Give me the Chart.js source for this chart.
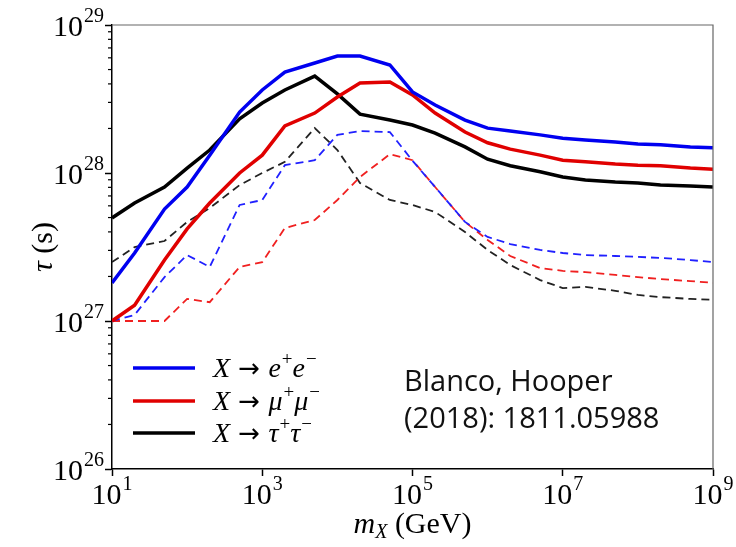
<!DOCTYPE html>
<html>
<head>
<meta charset="utf-8">
<script src="https://cdn.jsdelivr.net/npm/chart.js@4"></script>
<style>
  html, body { margin: 0; padding: 0; background: #fff; }
  #wrap { width: 736px; height: 547px; }
</style>
</head>
<body>
<div id="wrap"><canvas id="chart" width="736" height="547"></canvas></div>
<script>
// dark matter mass (GeV)
const masses = [10, 20, 50, 100, 200, 500, 1e3, 2e3, 5e3, 1e4, 2e4, 5e4, 1e5, 2e5, 5e5,
  1e6, 2e6, 5e6, 1e7, 2e7, 5e7, 1e8, 2e8, 5e8, 1e9]

// lifetime limits tau (s), solid
const eeSolid = [1.81e27, 2.88e27, 5.71e27, 8.04e27, 1.32e28, 2.58e28, 3.64e28, 4.81e28, 5.54e28,
  6.17e28, 6.17e28, 5.37e28, 3.53e28, 2.88e28, 2.28e28, 2.01e28, 1.92e28, 1.81e28, 1.72e28,
  1.67e28, 1.62e28, 1.57e28, 1.55e28, 1.50e28, 1.48e28]
const mumuSolid = [1.0e27, 1.28e27, 2.58e27, 4.19e27, 6.27e27, 1.0e28, 1.32e28, 2.08e28, 2.54e28,
  3.26e28, 4.06e28, 4.12e28, 3.37e28, 2.54e28, 1.89e28, 1.60e28, 1.45e28, 1.32e28, 1.22e28,
  1.19e28, 1.15e28, 1.13e28, 1.12e28, 1.08e28, 1.06e28]
const tautauSolid = [4.97e27, 6.27e27, 8.04e27, 1.08e28, 1.43e28, 2.32e28, 2.97e28, 3.64e28, 4.52e28,
  3.42e28, 2.50e28, 2.28e28, 2.11e28, 1.86e28, 1.50e28, 1.24e28, 1.12e28, 1.02e28, 9.4e27,
  8.97e27, 8.69e27, 8.56e27, 8.29e27, 8.17e27, 8.04e27]

// dashed
const eeDashed = [1.0e27, 1.10e27, 1.98e27, 2.79e27, 2.32e27, 6.08e27, 6.57e27, 1.13e28, 1.22e28,
  1.81e28, 1.92e28, 1.89e28, 1.21e28, 8.04e27, 4.67e27, 3.70e27, 3.31e27, 3.02e27, 2.88e27,
  2.79e27, 2.75e27, 2.71e27, 2.67e27, 2.58e27, 2.50e27]
const mumuDashed = [1.0e27, 1.0e27, 1.0e27, 1.41e27, 1.34e27, 2.32e27, 2.50e27, 4.25e27, 4.81e27,
  6.57e27, 9.4e27, 1.34e28, 1.22e28, 8.04e27, 4.67e27, 3.53e27, 2.75e27, 2.28e27, 2.18e27,
  2.14e27, 2.05e27, 1.98e27, 1.92e27, 1.86e27, 1.81e27]
const tautauDashed = [2.5e27, 3.16e27, 3.47e27, 4.67e27, 5.80e27, 8.29e27, 1.0e28, 1.19e28, 2.01e28,
  1.43e28, 8.56e27, 6.57e27, 6.08e27, 5.45e27, 3.99e27, 3.02e27, 2.39e27, 1.89e27, 1.67e27,
  1.70e27, 1.60e27, 1.50e27, 1.45e27, 1.41e27, 1.39e27]

const xTickExps = [1, 3, 5, 7, 9]
const yTickExps = [26, 27, 28, 29]

const BLUE = "#0000f0"
const RED = "#e00000"
const BLACK = "#000000"
const SERIF = "'Liberation Serif', 'DejaVu Serif', serif"

function pts(ys) {
  return masses.map((m, i) => ({ x: m, y: ys[i] }))
}

function solid(label, ys, color) {
  return { label, data: pts(ys), borderColor: color, borderWidth: 3.5, pointRadius: 0, tension: 0, fill: false }
}

function dashed(ys, color) {
  return { label: "", data: pts(ys), borderColor: color, borderWidth: 1.8, borderDash: [8, 5], pointRadius: 0, tension: 0, fill: false }
}

// draw text runs: [text, font, dy, dx]
function runs(ctx, parts, x, y, align) {
  let w = 0
  parts.forEach(p => { ctx.font = p[1]; w += ctx.measureText(p[0]).width + (p[3] || 0) })
  let cx = align === "right" ? x - w : align === "center" ? x - w / 2 : x
  ctx.textAlign = "left"
  ctx.textBaseline = "alphabetic"
  parts.forEach(p => {
    ctx.font = p[1]
    cx += p[3] || 0
    ctx.fillText(p[0], cx, y + (p[2] || 0))
    cx += ctx.measureText(p[0]).width
  })
}

const big = `30px ${SERIF}`
const sup = `20px ${SERIF}`

const decor = {
  id: "decor",
  afterDraw(chart) {
    const { ctx, chartArea: a, scales: { x, y } } = chart
    ctx.save()
    ctx.fillStyle = "#000"
    ctx.strokeStyle = "#000"

    // minor ticks on y
    ctx.lineWidth = 1.2
    for (let e = 26; e < 29; e++) {
      for (let k = 2; k <= 9; k++) {
        const py = y.getPixelForValue(k * 10 ** e)
        ctx.beginPath()
        ctx.moveTo(a.left - 4, py)
        ctx.lineTo(a.left, py)
        ctx.stroke()
      }
    }

    // frame top/right
    ctx.strokeStyle = "#666"
    ctx.lineWidth = 1.2
    ctx.beginPath()
    ctx.moveTo(a.left, a.top)
    ctx.lineTo(a.right, a.top)
    ctx.lineTo(a.right, a.bottom)
    ctx.stroke()

    // tick labels
    yTickExps.forEach(e => {
      const py = y.getPixelForValue(10 ** e)
      runs(ctx, [["10", big, 0], [String(e), sup, -14, 1]], a.left - 8, py + 11, "right")
    })
    xTickExps.forEach(e => {
      const px = x.getPixelForValue(10 ** e)
      runs(ctx, [["10", big, 0], [String(e), sup, -14, 1]], px, a.bottom + 35, "center")
    })

    // axis titles
    runs(ctx, [["m", `italic 30px ${SERIF}`, 0], ["X", `italic 20px ${SERIF}`, 5], [" (GeV)", `30px ${SERIF}`, 0]],
      (a.left + a.right) / 2, 533, "center")
    ctx.save()
    ctx.translate(52, (a.top + a.bottom) / 2)
    ctx.rotate(-Math.PI / 2)
    runs(ctx, [["τ", `italic 30px ${SERIF}`, 0], [" (s)", `30px ${SERIF}`, 0]], 0, 0, "center")
    ctx.restore()

    // legend
    const it = `italic 28px ${SERIF}`
    const arr = `26px 'DejaVu Sans', sans-serif`
    const ss = `19px ${SERIF}`
    const legend = [
      [BLUE, 368, [["X", it], [" → ", arr], ["e", it], ["+", ss, -12, 1], ["e", it], ["−", ss, -12, 1]]],
      [RED, 401, [["X", it], [" → ", arr], ["μ", it], ["+", ss, -12, 1], ["μ", it], ["−", ss, -12, 1]]],
      [BLACK, 433, [["X", it], [" → ", arr], ["τ", it], ["+", ss, -12, 1], ["τ", it], ["−", ss, -12, 1]]]
    ]
    legend.forEach(([c, ly, parts]) => {
      ctx.strokeStyle = c
      ctx.lineWidth = 3.5
      ctx.beginPath()
      ctx.moveTo(133, ly)
      ctx.lineTo(195, ly)
      ctx.stroke()
      ctx.fillStyle = "#000"
      runs(ctx, parts, 213, ly + 9, "left")
    })

    // citation
    ctx.font = "29px 'Open Sans', sans-serif"
    ctx.fillStyle = "#111"
    ctx.textAlign = "left"
    ctx.fillText("Blanco, Hooper", 404, 391)
    ctx.fillText("(2018): 1811.05988", 404, 428)
    ctx.restore()
  }
}

new Chart(document.getElementById("chart").getContext("2d"), {
  type: "line",
  data: {
    datasets: [
      solid("ee", eeSolid, BLUE),
      solid("mumu", mumuSolid, RED),
      solid("tautau", tautauSolid, BLACK),
      dashed(eeDashed, "#2020ff"),
      dashed(mumuDashed, "#f02020"),
      dashed(tautauDashed, "#222222")
    ]
  },
  options: {
    responsive: false,
    animation: false,
    devicePixelRatio: 1,
    layout: { padding: { left: 105, right: 23, top: 25, bottom: 71 } },
    scales: {
      x: {
        type: "logarithmic",
        min: 10, max: 1e9,
        afterBuildTicks: s => { s.ticks = xTickExps.map(e => ({ value: 10 ** e, major: true })) },
        ticks: { display: false },
        grid: { drawOnChartArea: false, drawTicks: true, tickLength: 7, tickWidth: 1.5, tickColor: "#000" },
        border: { color: "#000", width: 1.5 }
      },
      y: {
        type: "logarithmic",
        min: 1e26, max: 1e29,
        afterBuildTicks: s => { s.ticks = yTickExps.map(e => ({ value: 10 ** e, major: true })) },
        ticks: { display: false },
        grid: { drawOnChartArea: false, drawTicks: true, tickLength: 7, tickWidth: 1.5, tickColor: "#000" },
        border: { color: "#000", width: 1.5 }
      }
    },
    plugins: { legend: { display: false }, tooltip: { enabled: false } }
  },
  plugins: [decor]
})
</script>
</body>
</html>
